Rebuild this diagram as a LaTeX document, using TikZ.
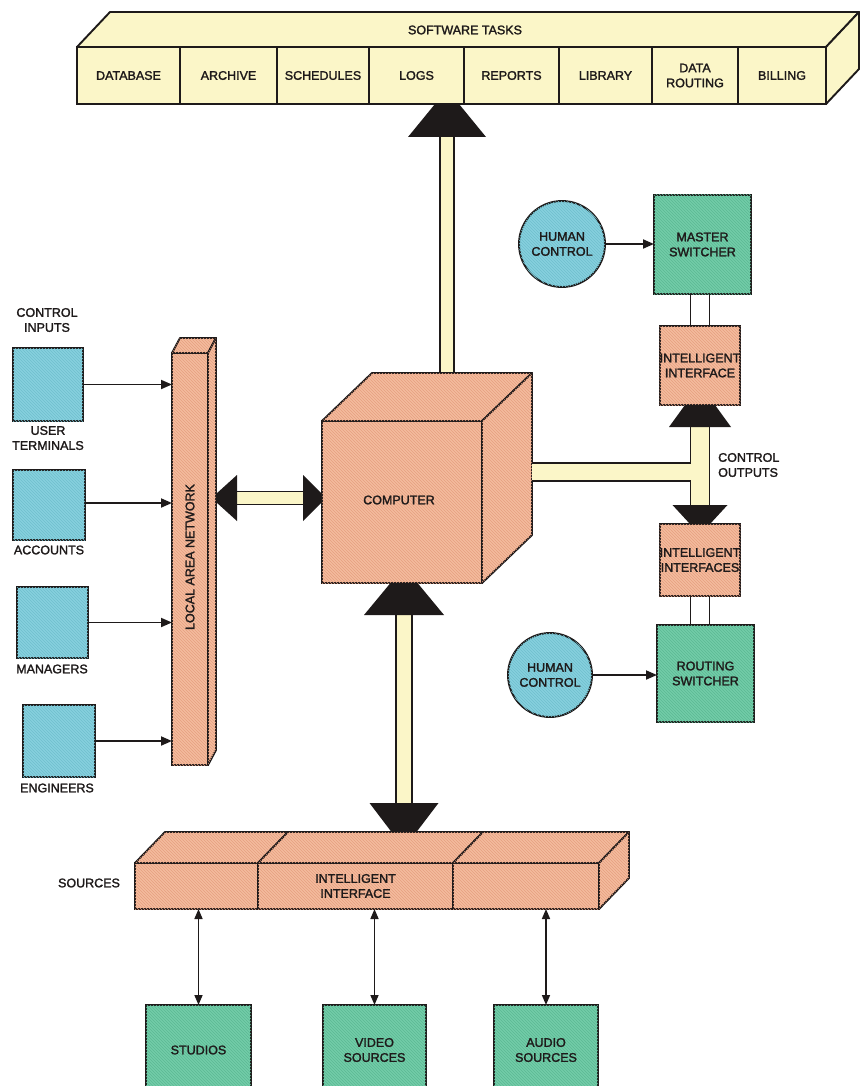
\documentclass[tikz,border=0pt]{standalone}
\usepackage{fontspec}
\setmainfont{Liberation Sans}[FakeBold=1.8]
\usetikzlibrary{arrows.meta,calc,patterns}
\definecolor{ink}{HTML}{1E1A1A}
\definecolor{cream}{HTML}{FBF6C8}
\definecolor{salmon}{HTML}{F4BC9E}
\definecolor{salmonhatch}{HTML}{E69F80}
\definecolor{cyanbox}{HTML}{86D0DE}
\definecolor{cyanhatch}{HTML}{70BFCE}
\definecolor{greenbox}{HTML}{72CCA8}
\definecolor{greenhatch}{HTML}{5CB994}
\newcommand\diaglbl{\fontsize{12.5}{15}\selectfont}
\tikzset{
  base/.style={draw=ink, line width=1.9pt, inner sep=0pt, outer sep=0pt, text=ink, align=center, font=\diaglbl},
  creambox/.style={base, fill=cream},
  salmbox/.style={base, fill=salmon, postaction={pattern=north west lines, pattern color=salmonhatch}},
  cyanrect/.style={base, fill=cyanbox, postaction={pattern=north west lines, pattern color=cyanhatch}},
  greenrect/.style={base, fill=greenbox, postaction={pattern=north west lines, pattern color=greenhatch}},
  face/.style={draw=ink, line width=1.9pt, line join=round},
  creamface/.style={face, fill=cream},
  salmface/.style={face, fill=salmon, postaction={pattern=north west lines, pattern color=salmonhatch}},
  lbltext/.style={text=ink, align=center, font=\diaglbl, inner sep=0pt},
  barline/.style={draw=ink, line width=1.8pt},
  arr/.style={draw=ink, line width=1.8pt, -{Triangle[length=11pt,width=9pt]}},
  darr/.style={draw=ink, line width=1.6pt, {Triangle[length=10pt,width=8pt]}-{Triangle[length=10pt,width=8pt]}},
}
\begin{document}
\begin{tikzpicture}[x=1pt,y=-1pt]
\useasboundingbox (0,0) rectangle (862,1086);
\clip (0,0) rectangle (862,1086);

% ---------------- software tasks bar ----------------
\node[creambox, minimum width=749, minimum height=57] (sw) at (451.5,75.5) {};
\draw[creamface] (sw.north west) -- ++(33,-35) -- ($(sw.north east)+(33,-35)$) -- (sw.north east) -- cycle;
\draw[creamface] (sw.north east) -- ++(33,-35) -- ++(0,57) -- (sw.south east) -- cycle;
\node[lbltext] (swt) at (465,30) {SOFTWARE TASKS};
\node[creambox, minimum width=103, minimum height=57] (t1) at (128.5,75.5) {DATABASE};
\node[creambox, minimum width=97, minimum height=57] (t2) at (228.5,75.5) {ARCHIVE};
\node[creambox, minimum width=92, minimum height=57] (t3) at (323,75.5) {SCHEDULES};
\node[creambox, minimum width=95, minimum height=57] (t4) at (416.5,75.5) {LOGS};
\node[creambox, minimum width=95, minimum height=57] (t5) at (511.5,75.5) {REPORTS};
\node[creambox, minimum width=93, minimum height=57] (t6) at (605.5,75.5) {LIBRARY};
\node[creambox, minimum width=86, minimum height=57] (t7) at (695,75.5) {DATA\\ROUTING};
\node[creambox, minimum width=88, minimum height=57] (t8) at (782,75.5) {BILLING};

% ---------------- computer ----------------
\node[salmbox, minimum width=160, minimum height=162] (comp) at (402,502) {};

% up connector to software tasks
\coordinate (tA) at ($(comp.north)+(45,-48)$);
\coordinate (tB) at (sw.south -| tA);
\fill[cream] ($(tA)+(-7,0)$) rectangle ($(tB)+(7,33)$);
\draw[barline] ($(tA)+(-7,0)$) -- ($(tB)+(-7,33)$) ($(tA)+(7,0)$) -- ($(tB)+(7,33)$);
\fill[ink] ($(tB)+(-12,0)$) -- ($(tB)+(12,0)$) -- ($(tB)+(39,33)$) -- ($(tB)+(-39,33)$) -- cycle;

\draw[salmface] (comp.north west) -- ++(50,-48) -- ($(comp.north east)+(50,-48)$) -- (comp.north east) -- cycle;
\draw[salmface] (comp.north east) -- ++(50,-48) -- ++(0,162) -- (comp.south east) -- cycle;
\node[lbltext] (compt) at (399,500) {COMPUTER};

% ---------------- local area network ----------------
\node[salmbox, minimum width=36, minimum height=412] (lan) at (190,559) {};
\draw[salmface] (lan.north west) -- ++(8,-15) -- ($(lan.north east)+(8,-15)$) -- (lan.north east) -- cycle;
\draw[salmface] (lan.north east) -- ++(8,-15) -- ++(0,412) -- (lan.south east) -- cycle;
\node[lbltext, rotate=90] (lant) at (190,557) {LOCAL AREA NETWORK};

% LAN <-> computer
\coordinate (cl) at ($(comp.west)+(0,-4)$);
\coordinate (la) at ($(lan.east |- cl)+(8,0)$);
\fill[cream] ($(la)+(21,-6.5)$) rectangle ($(cl)+(-19,6.5)$);
\draw[barline] ($(la)+(21,-6.5)$) -- ($(cl)+(-19,-6.5)$) ($(la)+(21,6.5)$) -- ($(cl)+(-19,6.5)$);
\fill[ink] ($(la)+(0,-4)$) -- ($(la)+(0,4)$) -- ($(la)+(21,23)$) -- ($(la)+(21,-23)$) -- cycle;
\fill[ink] ($(cl)+(0,-4)$) -- ($(cl)+(0,4)$) -- ($(cl)+(-19,23)$) -- ($(cl)+(-19,-23)$) -- cycle;

% ---------------- control inputs ----------------
\node[lbltext] (cin) at (47,320) {CONTROL\\INPUTS};
\node[cyanrect, minimum width=70, minimum height=73] (ut) at (48,384.5) {};
\node[cyanrect, minimum width=72, minimum height=70] (ac) at (49,505) {};
\node[cyanrect, minimum width=71, minimum height=71] (mg) at (52.5,622.5) {};
\node[cyanrect, minimum width=72, minimum height=72] (en) at (59,741) {};
\node[lbltext] (utl) at (48,438) {USER\\TERMINALS};
\node[lbltext] (acl) at (49,550) {ACCOUNTS};
\node[lbltext] (mgl) at (52,669) {MANAGERS};
\node[lbltext] (enl) at (57,788) {ENGINEERS};
\draw[arr] (ut.east) -- (ut.east -| lan.west);
\draw[arr] ($(ac.east)+(0,-2)$) -- ($(ac.east -| lan.west)+(0,-2)$);
\draw[arr] (mg.east) -- (mg.east -| lan.west);
\draw[arr] (en.east) -- (en.east -| lan.west);

% ---------------- right side ----------------
\node[greenrect, minimum width=97, minimum height=99] (ms) at (702.5,244.5) {MASTER\\SWITCHER};
\node[base, circle, fill=cyanbox, postaction={pattern=north west lines, pattern color=cyanhatch}, minimum size=86] (hc1) at (562,244) {HUMAN\\CONTROL};
\draw[arr] (hc1.east) -- (hc1.east -| ms.west);
\node[salmbox, minimum width=79, minimum height=79] (if1) at (700,365.5) {INTELLIGENT\\INTERFACE};
\draw[barline] ($(if1.north)+(-9.5,0)$) -- ($(if1.north |- ms.south)+(-9.5,0)$);
\draw[barline] ($(if1.north)+(9.5,0)$) -- ($(if1.north |- ms.south)+(9.5,0)$);

\node[salmbox, minimum width=74, minimum height=72] (if2) at (700,560) {INTELLIGENT\\INTERFACES};
\node[greenrect, minimum width=97, minimum height=97] (rs) at (705.5,673.5) {ROUTING\\SWITCHER};
\node[base, circle, fill=cyanbox, postaction={pattern=north west lines, pattern color=cyanhatch}, minimum size=84] (hc2) at (550,675) {HUMAN\\CONTROL};
\draw[arr] (hc2.east) -- (hc2.east -| rs.west);
\draw[barline] ($(if2.south)+(-9.5,0)$) -- ($(if2.south |- rs.north)+(-9.5,0)$);
\draw[barline] ($(if2.south)+(9.5,0)$) -- ($(if2.south |- rs.north)+(9.5,0)$);

% control outputs T-bar
\coordinate (co) at ($(comp.north east)+(50,51)$);
\coordinate (vT) at ($(if1.south)+(0,22)$);
\coordinate (vB) at ($(if2.north)+(0,-19)$);
\fill[cream] ($(co)+(0,-9)$) rectangle ($(co -| vT)+(-9.5,9)$);
\fill[cream] ($(vT)+(-9.5,0)$) rectangle ($(vB)+(9.5,0)$);
\draw[barline] ($(vT)+(-9.5,0)$) -- ($(co -| vT)+(-9.5,-9)$) -- ($(co)+(0,-9)$);
\draw[barline] ($(co)+(0,9)$) -- ($(co -| vT)+(-9.5,9)$) -- ($(vB)+(-9.5,0)$);
\draw[barline] ($(vT)+(9.5,0)$) -- ($(vB)+(9.5,0)$);
\fill[ink] ($(if1.south)+(-15,0)$) -- ($(if1.south)+(15,0)$) -- ($(vT)+(31,0)$) -- ($(vT)+(-31,0)$) -- cycle;
\fill[ink] ($(vB)+(-27.5,0)$) -- ($(vB)+(27.5,0)$) -- ($(if2.north)+(10,0)$) -- ($(if2.north)+(-10,0)$) -- cycle;
\node[lbltext, align=left, anchor=west] (cout) at (718,465) {CONTROL\\OUTPUTS};

% ---------------- sources interface ----------------
\node[salmbox, minimum width=123, minimum height=46] (s1) at (196.5,886) {};
\node[salmbox, minimum width=195, minimum height=46] (s2) at (355.5,886) {INTELLIGENT\\INTERFACE};
\node[salmbox, minimum width=146, minimum height=46] (s3) at (526,886) {};
\draw[salmface] (s1.north west) -- ++(30,-31) -- ($(s1.north east)+(30,-31)$) -- (s1.north east) -- cycle;
\draw[salmface] (s2.north west) -- ++(30,-31) -- ($(s2.north east)+(30,-31)$) -- (s2.north east) -- cycle;
\draw[salmface] (s3.north west) -- ++(30,-31) -- ($(s3.north east)+(30,-31)$) -- (s3.north east) -- cycle;
\draw[salmface] (s3.north east) -- ++(30,-31) -- ++(0,46) -- (s3.south east) -- cycle;
\node[lbltext] (srcl) at (89,883) {SOURCES};

% computer <-> sources interface
\coordinate (bA) at ($(comp.south)+(2,0)$);
\coordinate (bB) at ($(bA |- s2.north)+(0,-31)$);
\fill[cream] ($(bA)+(-8,32)$) rectangle ($(bB)+(8,-29)$);
\draw[barline] ($(bA)+(-8,32)$) -- ($(bB)+(-8,-29)$) ($(bA)+(8,32)$) -- ($(bB)+(8,-29)$);
\fill[ink] ($(bA)+(-13.5,0)$) -- ($(bA)+(13.5,0)$) -- ($(bA)+(40,32)$) -- ($(bA)+(-40,32)$) -- cycle;
\fill[ink] ($(bB)+(-34.5,-29)$) -- ($(bB)+(34.5,-29)$) -- ($(bB)+(12.5,0)$) -- ($(bB)+(-12.5,0)$) -- cycle;

% ---------------- sources ----------------
\node[greenrect, minimum width=105, minimum height=90] (st) at (198.5,1050) {STUDIOS};
\node[greenrect, minimum width=103, minimum height=90] (vs) at (374.5,1050) {VIDEO\\SOURCES};
\node[greenrect, minimum width=104, minimum height=90] (as) at (546,1050) {AUDIO\\SOURCES};
\draw[darr] (st.north) -- (st.north |- s1.south);
\draw[darr] (vs.north) -- (vs.north |- s2.south);
\draw[darr] (as.north) -- (as.north |- s3.south);
\end{tikzpicture}
\end{document}
